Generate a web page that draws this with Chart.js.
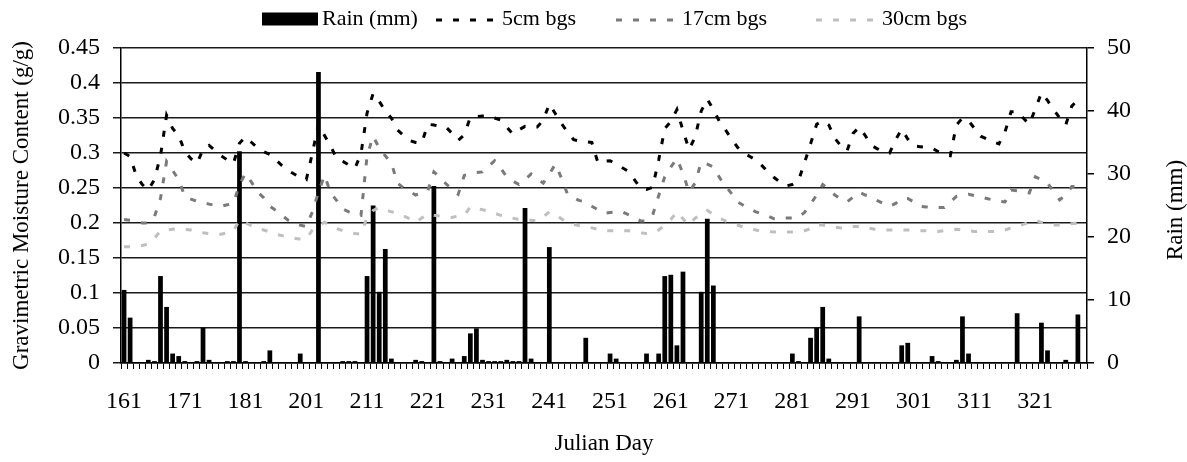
<!DOCTYPE html>
<html>
<head>
<meta charset="utf-8">
<script src="https://cdn.jsdelivr.net/npm/chart.js@4/dist/chart.umd.min.js"></script>
<style>
  html, body { margin: 0; padding: 0; background: #ffffff; }
  #wrap { width: 1187px; height: 462px; position: relative; }
</style>
</head>
<body>
<div id="wrap"><canvas id="c" width="1187" height="462"></canvas></div>
<script>
// ---- categories: Julian days with data (days 191-200 absent) ----
const days = [
  161,162,163,164,165,166,167,168,169,170,
  171,172,173,174,175,176,177,178,179,180,
  181,182,183,184,185,186,187,188,189,190,
  201,202,203,204,205,206,207,208,209,210,
  211,212,213,214,215,216,217,218,219,220,
  221,222,223,224,225,226,227,228,229,230,
  231,232,233,234,235,236,237,238,239,240,
  241,242,243,244,245,246,247,248,249,250,
  251,252,253,254,255,256,257,258,259,260,
  261,262,263,264,265,266,267,268,269,270,
  271,272,273,274,275,276,277,278,279,280,
  281,282,283,284,285,286,287,288,289,290,
  291,292,293,294,295,296,297,298,299,300,
  301,302,303,304,305,306,307,308,309,310,
  311,312,313,314,315,316,317,318,319,320,
  321,322,323,324,325,326,327,328,329
];

// ---- rain (mm): days with rain and amounts ----
const rainDays = [161,162,165,166,167,168,169,170,171,173,174,175,178,179,180,181,184,185,190,
  203,207,208,209,211,212,213,214,215,219,220,222,223,225,227,228,229,230,231,232,233,234,235,236,237,238,
  241,247,251,252,257,259,260,261,262,263,266,267,268,281,282,284,285,286,287,292,299,300,304,305,
  308,309,310,318,322,323,326,328];
const rainMm = [11.6,7.2,0.5,0.3,13.8,8.9,1.5,1.1,0.3,0.3,5.6,0.5,0.3,0.3,33.6,0.3,0.3,2.0,1.5,
  46.2,0.3,0.3,0.3,13.8,25.0,11.3,18.1,0.7,0.5,0.3,28.1,0.3,0.7,1.1,4.7,5.5,0.5,0.3,0.3,0.3,0.5,0.3,0.3,24.6,0.7,
  18.4,4.0,1.5,0.7,1.5,1.5,13.8,14.0,2.8,14.5,11.3,22.9,12.3,1.5,0.3,4.0,5.6,8.9,0.7,7.4,2.8,3.2,1.1,0.3,
  0.5,7.4,1.5,7.9,6.4,2.0,0.5,7.7];

// ---- gravimetric moisture content (g/g) ----
const moist5cm = [
  0.300,0.295,0.268,0.255,0.247,0.262,0.296,0.354,0.335,0.325,
  0.302,0.292,0.285,0.305,0.311,0.303,0.296,0.290,0.285,0.314,
  0.323,0.315,0.307,0.302,0.298,0.290,0.282,0.275,0.270,0.265,
  0.262,0.300,0.341,0.325,0.310,0.292,0.288,0.283,0.278,0.299,
  0.357,0.385,0.374,0.360,0.350,0.333,0.325,0.318,0.315,0.314,
  0.341,0.340,0.338,0.337,0.328,0.318,0.326,0.351,0.352,0.353,
  0.353,0.350,0.347,0.337,0.327,0.333,0.338,0.337,0.337,0.347,
  0.370,0.356,0.342,0.330,0.319,0.317,0.316,0.315,0.286,0.288,
  0.289,0.284,0.279,0.274,0.262,0.250,0.248,0.251,0.290,0.335,
  0.345,0.362,0.332,0.305,0.323,0.360,0.377,0.362,0.345,0.333,
  0.320,0.308,0.300,0.295,0.290,0.282,0.273,0.265,0.258,0.253,
  0.255,0.260,0.286,0.313,0.341,0.346,0.340,0.321,0.310,0.303,
  0.328,0.337,0.325,0.311,0.306,0.302,0.300,0.319,0.334,0.320,
  0.310,0.309,0.308,0.307,0.302,0.298,0.296,0.340,0.350,0.346,
  0.335,0.324,0.320,0.316,0.313,0.330,0.359,0.359,0.350,0.341,
  0.363,0.386,0.375,0.362,0.350,0.340,0.367,0.376,0.378
];
const moist17cm = [
  0.205,0.204,0.202,0.200,0.200,0.209,0.235,0.288,0.275,0.262,
  0.238,0.234,0.231,0.229,0.227,0.225,0.224,0.226,0.228,0.255,
  0.271,0.258,0.244,0.236,0.224,0.218,0.211,0.204,0.200,0.197,
  0.195,0.216,0.244,0.268,0.243,0.232,0.220,0.216,0.213,0.211,
  0.296,0.324,0.307,0.296,0.286,0.257,0.250,0.245,0.240,0.243,
  0.246,0.273,0.265,0.256,0.248,0.241,0.268,0.270,0.272,0.273,
  0.281,0.289,0.278,0.266,0.260,0.255,0.262,0.270,0.263,0.257,
  0.270,0.284,0.264,0.241,0.236,0.232,0.230,0.224,0.219,0.214,
  0.215,0.216,0.216,0.212,0.208,0.203,0.203,0.211,0.239,0.266,
  0.280,0.292,0.271,0.244,0.257,0.287,0.284,0.280,0.265,0.253,
  0.242,0.230,0.225,0.220,0.216,0.213,0.210,0.206,0.206,0.207,
  0.207,0.208,0.215,0.227,0.240,0.255,0.248,0.240,0.234,0.230,
  0.237,0.244,0.240,0.237,0.232,0.228,0.224,0.228,0.235,0.235,
  0.230,0.224,0.223,0.222,0.222,0.222,0.230,0.238,0.240,0.241,
  0.239,0.237,0.235,0.233,0.231,0.230,0.247,0.246,0.245,0.243,
  0.266,0.262,0.257,0.245,0.233,0.240,0.252,0.252,0.252
];
const moist30cm = [
  0.166,0.166,0.167,0.168,0.170,0.178,0.189,0.190,0.191,0.192,
  0.191,0.190,0.188,0.186,0.185,0.184,0.184,0.186,0.189,0.204,
  0.200,0.196,0.192,0.190,0.187,0.184,0.182,0.180,0.178,0.177,
  0.177,0.190,0.196,0.201,0.196,0.192,0.189,0.187,0.185,0.184,
  0.208,0.218,0.222,0.219,0.216,0.214,0.210,0.206,0.201,0.207,
  0.213,0.211,0.210,0.209,0.208,0.210,0.211,0.223,0.221,0.219,
  0.217,0.214,0.211,0.209,0.207,0.205,0.204,0.204,0.203,0.209,
  0.216,0.212,0.206,0.200,0.198,0.196,0.195,0.193,0.191,0.189,
  0.189,0.189,0.189,0.189,0.188,0.186,0.185,0.186,0.190,0.197,
  0.205,0.216,0.206,0.197,0.207,0.212,0.218,0.212,0.207,0.203,
  0.200,0.197,0.194,0.192,0.190,0.188,0.188,0.187,0.187,0.187,
  0.187,0.187,0.189,0.192,0.198,0.197,0.195,0.194,0.193,0.194,
  0.195,0.195,0.193,0.192,0.190,0.190,0.190,0.190,0.190,0.190,
  0.190,0.189,0.189,0.188,0.188,0.189,0.190,0.191,0.190,0.189,
  0.188,0.188,0.188,0.188,0.188,0.190,0.193,0.195,0.198,0.201,
  0.204,0.201,0.199,0.197,0.197,0.198,0.199,0.200,0.200
];

const leftTicks = [0,0.05,0.1,0.15,0.2,0.25,0.3,0.35,0.4,0.45];
const rightTicks = [0,10,20,30,40,50];

// rain aligned to categories
const rain = days.map(d => { const k = rainDays.indexOf(d); return k >= 0 ? rainMm[k] : 0; });

const FONT = '"Liberation Serif", "Times New Roman", serif';
Chart.defaults.font.family = FONT;
Chart.defaults.color = '#000';

const DASH = [6, 11];

// Excel-style legend across the top, plus right-axis title read bottom-to-top
const excelDecor = {
  id: 'excelDecor',
  afterDraw(chart) {
    const ctx = chart.ctx;
    const dsets = chart.data.datasets;
    ctx.save();
    ctx.font = '22px ' + FONT;
    ctx.textBaseline = 'middle';
    const cy = 19;
    const symStart = [262, 436, 616, 816];
    const symW = [56, 62, 62, 62];
    dsets.forEach((ds, i) => {
      const x = symStart[i];
      const w = symW[i];
      if (ds.type === 'bar') {
        ctx.fillStyle = ds.backgroundColor;
        ctx.fillRect(x, cy - 6.5, w, 13);
      } else {
        ctx.save();
        ctx.strokeStyle = ds.borderColor;
        ctx.lineWidth = 3;
        ctx.setLineDash(ds.borderDash);
        ctx.beginPath();
        ctx.moveTo(x, cy + 1);
        ctx.lineTo(x + w, cy + 1);
        ctx.stroke();
        ctx.restore();
      }
      ctx.fillStyle = '#000';
      ctx.textAlign = 'left';
      ctx.fillText(ds.label, x + w + 4, cy);
    });
    // right axis title
    ctx.translate(1176, 210);
    ctx.rotate(-Math.PI / 2);
    ctx.font = '23px ' + FONT;
    ctx.textAlign = 'center';
    ctx.textBaseline = 'middle';
    ctx.fillStyle = '#000';
    ctx.fillText('Rain (mm)', 0, 0);
    ctx.restore();
  }
};

new Chart(document.getElementById('c'), {
  data: {
    labels: days.map(String),
    datasets: [
      { type: 'bar', label: 'Rain (mm)', data: rain, yAxisID: 'y1',
        backgroundColor: '#000', borderWidth: 0,
        barPercentage: 0.78, categoryPercentage: 1.0, order: 5 },
      { type: 'line', label: '5cm bgs', data: moist5cm, yAxisID: 'y',
        borderColor: '#000', borderWidth: 3, borderDash: DASH, pointRadius: 0,
        tension: 0, fill: false, order: 1 },
      { type: 'line', label: '17cm bgs', data: moist17cm, yAxisID: 'y',
        borderColor: '#7a7a7a', borderWidth: 3, borderDash: DASH, pointRadius: 0,
        tension: 0, fill: false, order: 2 },
      { type: 'line', label: '30cm bgs', data: moist30cm, yAxisID: 'y',
        borderColor: '#bfbfbf', borderWidth: 3, borderDash: DASH, pointRadius: 0,
        tension: 0, fill: false, order: 3 }
    ]
  },
  options: {
    responsive: false,
    animation: false,
    devicePixelRatio: 1,
    layout: { padding: { top: 48, left: 0, right: 0, bottom: 0 } },
    plugins: {
      legend: { display: false },
      tooltip: { enabled: false }
    },
    scales: {
      x: {
        type: 'category',
        offset: true,
        grid: { display: true, drawOnChartArea: false, drawTicks: true, tickLength: 6,
                color: '#000', lineWidth: 1, offset: true },
        border: { display: true, color: '#000', width: 1.5 },
        ticks: {
          autoSkip: false, maxRotation: 0, minRotation: 0, padding: 18,
          font: { size: 24, family: FONT }, color: '#000',
          callback: function (v, i) { return i % 10 === 0 ? String(days[i]) : ''; }
        },
        title: { display: true, text: 'Julian Day', align: 'center',
                 font: { size: 23, family: FONT, lineHeight: 1 }, color: '#000',
                 padding: { top: 0, bottom: 7 } },
        afterFit: s => { s.height = 99; }
      },
      y: {
        type: 'linear', position: 'left', min: 0, max: 0.45,
        afterBuildTicks: s => { s.ticks = leftTicks.map(v => ({ value: v })); },
        grid: { display: true, drawOnChartArea: true, drawTicks: true, tickLength: 8,
                color: '#1a1a1a', lineWidth: 1.5 },
        border: { display: true, color: '#000', width: 1.5 },
        ticks: { padding: 13, font: { size: 24, family: FONT }, color: '#000',
                 callback: v => String(Number(v.toFixed(2))) },
        title: { display: true, text: 'Gravimetric Moisture Content (g/g)',
                 font: { size: 23, family: FONT, lineHeight: 1 }, color: '#000',
                 padding: { top: 10, bottom: 0 } },
        afterFit: s => { s.width = 121; }
      },
      y1: {
        type: 'linear', position: 'right', min: 0, max: 50,
        afterBuildTicks: s => { s.ticks = rightTicks.map(v => ({ value: v })); },
        grid: { display: true, drawOnChartArea: false, drawTicks: true, tickLength: 7,
                color: '#000', lineWidth: 1.5 },
        border: { display: true, color: '#000', width: 1.5 },
        ticks: { padding: 13, font: { size: 24, family: FONT }, color: '#000' },
        title: { display: false, text: 'Rain (mm)' },
        afterFit: s => { s.width = 100; }
      }
    }
  },
  plugins: [excelDecor]
});
</script>
</body>
</html>
